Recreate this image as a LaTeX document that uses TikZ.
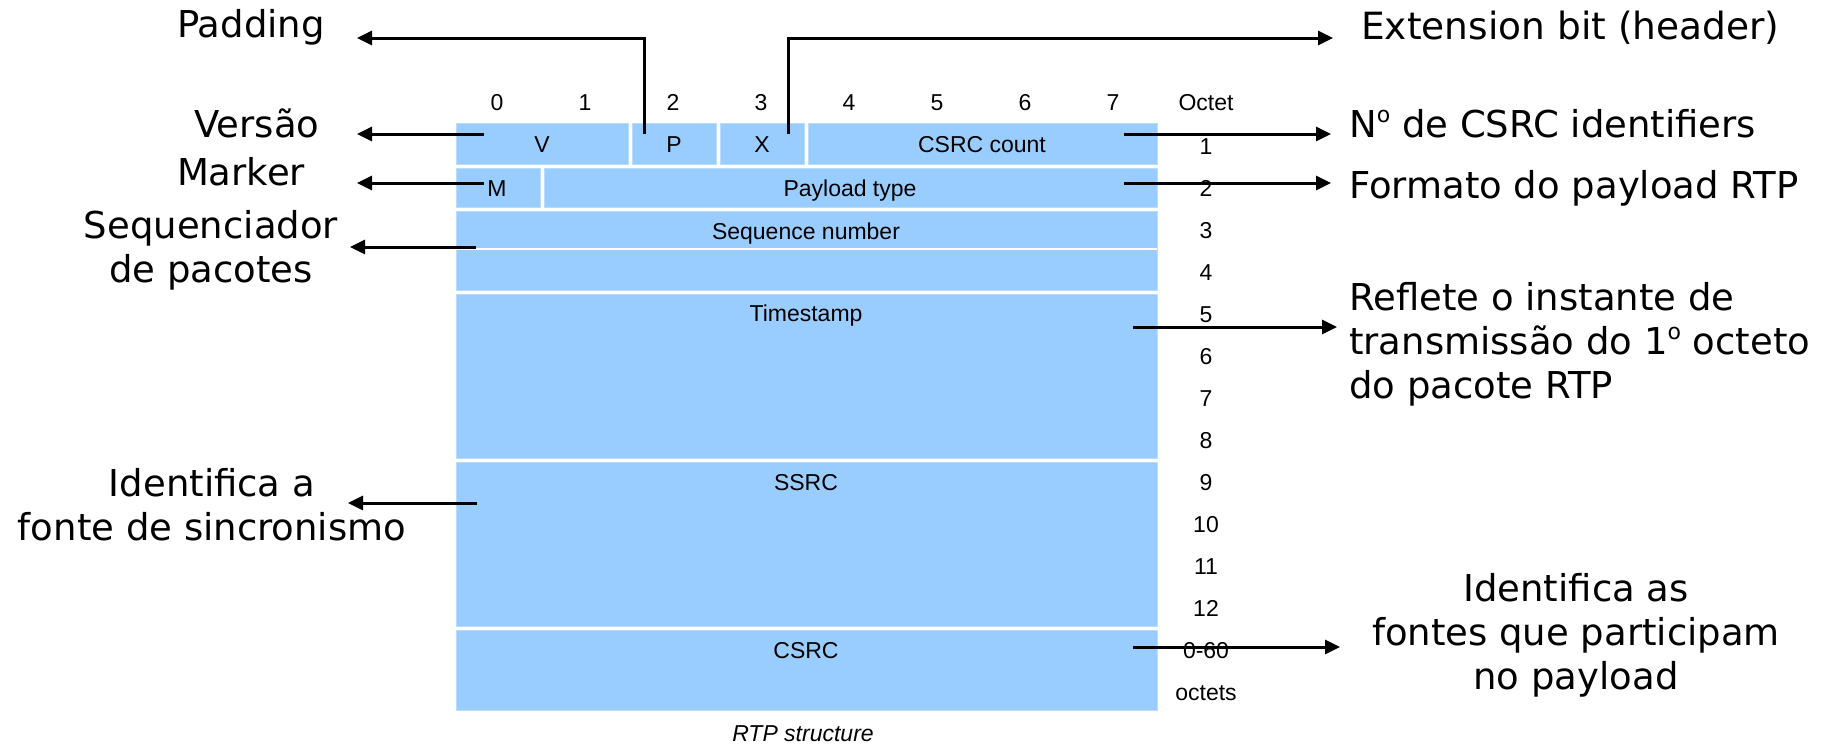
\documentclass[tikz,border=0pt]{standalone}
\usepackage{fontspec}
\setmainfont{DejaVu Sans}
\newfontfamily\cellfont{Liberation Sans}
\usetikzlibrary{arrows.meta}
\definecolor{cellblue}{RGB}{153,204,255}
\definecolor{celledge}{RGB}{186,220,255}
% raised ordinal "o" without underline
\newcommand\ordo{\raisebox{15pt}{\fontsize{22}{22}\selectfont o}}
\begin{document}
\begin{tikzpicture}[x=1pt,y=-1pt,
  cell/.style={fill=cellblue, draw=celledge, line width=1pt, inner sep=0pt, outer sep=0pt, anchor=north west},
  small/.style={font=\cellfont\fontsize{23}{27}\selectfont, inner sep=0pt, text height=16pt, text depth=4pt},
  big/.style={font=\fontsize{37}{44}\selectfont, inner sep=0pt},
  pointer/.style={line width=3pt, -{Triangle[length=15pt,width=14pt]}}]

\useasboundingbox (0,0) rectangle (1838,745);

% header cells
\node[cell, minimum width=172pt, minimum height=41pt] (cV)  at (456,123) {};
\node[cell, minimum width=84pt,  minimum height=41pt] (cP)  at (632,123) {};
\node[cell, minimum width=84pt,  minimum height=41pt] (cX)  at (720,123) {};
\node[cell, minimum width=349pt, minimum height=41pt] (cCC) at (808,123) {};
\node[cell, minimum width=84pt,  minimum height=39pt] (cM)  at (456,168) {};
\node[cell, minimum width=613pt, minimum height=39pt] (cPT) at (544,168) {};
\node[cell, minimum width=701pt, minimum height=79pt] (cSEQ) at (456,211) {};
\draw[white, line width=1.2pt] (cSEQ.west |- 0,249) -- (cSEQ.east |- 0,249);
\node[cell, minimum width=701pt, minimum height=164pt] (cTS)   at (456,294) {};
\node[cell, minimum width=701pt, minimum height=164pt] (cSSRC) at (456,462) {};
\node[cell, minimum width=701pt, minimum height=80pt]  (cCSRC) at (456,630) {};

% field names
\node[small] (tV)  at (542,146) {V};
\node[small] (tP)  at (674,146) {P};
\node[small] (tX)  at (762,146) {X};
\node[small] (tCC) at (982,146) {CSRC count};
\node[small] (tM)  at (497,190) {M};
\node[small] (tPT) at (850,190) {Payload type};
\node[small] (tSEQ)  at (806,233) {Sequence number};
\node[small] (tTS)   at (806,315) {Timestamp};
\node[small] (tSSRC) at (806,484) {SSRC};
\node[small] (tCSRC) at (806,652) {CSRC};

% bit numbers and octet column
\foreach \b in {0,...,7}
  \node[small] (bit\b) at ({497+88*\b},104) {\b};
\node[small] (octet) at (1206,104) {Octet};
\foreach \lbl [count=\i from 0] in {1,2,3,4,5,6,7,8,9,10,11,12,0-60,octets}
  \node[small] (oct\i) at (1206,{148+42*\i}) {\lbl};

\node[small, text depth=2pt, font=\cellfont\itshape\fontsize{23}{27}\selectfont] (caption) at (803,734) {RTP structure};

% descriptions
\node[big] (padding) at (251,27) {Padding};
\node[big] (versao) at (257,123) {Versão};
\node[big] (marker) at (241,172) {Marker};
\node[big, align=center] (seqlbl) at (211,250) {Sequenciador\\de pacotes};
\node[big, align=center] (ssrclbl) at (212,505) {Identifica a\\fonte de sincronismo};
\node[big, anchor=west, font=\fontsize{37.5}{44}\selectfont] (extlbl) at (1361,28) {Extension bit (header)};
\node[big, anchor=west] (cclbl) at (1349,124) {N\ordo{} de CSRC identifiers};
\node[big, anchor=west] (ptlbl) at (1349,188) {Formato do payload RTP};
\node[big, align=left, anchor=west] (tslbl) at (1349,344) {Reflete o instante de\\transmissão do 1\ordo{} octeto\\do pacote RTP};
\node[big, align=center] (csrclbl) at (1576,635) {Identifica as\\fontes que participam\\no payload};

% pointer end points
\coordinate (padA) at (644,134);  \coordinate (padB) at (357,38);
\coordinate (extA) at (788,134);  \coordinate (extB) at (1333,38);
\coordinate (verA) at (484,134);  \coordinate (verB) at (357,134);
\coordinate (marA) at (484,183);  \coordinate (marB) at (357,183);
\coordinate (seqA) at (476,247);  \coordinate (seqB) at (350,247);
\coordinate (ssrA) at (477,503);  \coordinate (ssrB) at (348,503);
\coordinate (ccA)  at (1124,134); \coordinate (ccB)  at (1331,134);
\coordinate (ptA)  at (1124,183); \coordinate (ptB)  at (1331,183);
\coordinate (tsA)  at (1133,327); \coordinate (tsB)  at (1337,327);
\coordinate (csA)  at (1133,647); \coordinate (csB)  at (1340,647);

\draw[pointer] (padA) |- (padB);
\draw[pointer] (extA) |- (extB);
\draw[pointer] (verA) -- (verB);
\draw[pointer] (marA) -- (marB);
\draw[pointer] (seqA) -- (seqB);
\draw[pointer] (ssrA) -- (ssrB);
\draw[pointer] (ccA) -- (ccB);
\draw[pointer] (ptA) -- (ptB);
\draw[pointer] (tsA) -- (tsB);
\draw[pointer] (csA) -- (csB);
\end{tikzpicture}
\end{document}
